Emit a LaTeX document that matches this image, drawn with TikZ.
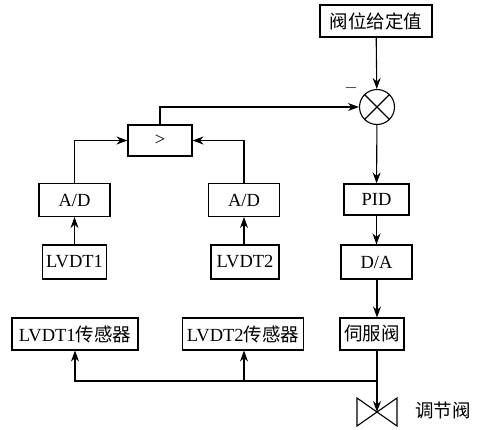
\documentclass[tikz,border=0pt]{standalone}
\usepackage{fontspec}
\setmainfont{Liberation Serif}
\newfontfamily\cjk{Noto Sans CJK SC}
\usetikzlibrary{arrows.meta}
\begin{document}
\begin{tikzpicture}[x=1pt,y=-1pt,
  every node/.style={font=\fontsize{18.5}{22}\selectfont},
  blk/.style={draw,line width=1.1pt,rectangle,inner sep=0pt},
  ln/.style={line width=1.1pt},
  arr/.style={ln,-{Stealth[length=11pt,width=8pt]}}]
\useasboundingbox (0,0) rectangle (482,429);
% nodes
\node[blk,minimum width=112,minimum height=32] (sp) at (376,21) {\cjk 阀位给定值};
\node[draw,circle,line width=1.1pt,minimum size=35,inner sep=0pt] (sum) at (377,107) {};
\draw[ln] (sum.45) -- (sum.225) (sum.135) -- (sum.315);
\node (minus) at (351,88) {$-$};
\node[blk,minimum width=64,minimum height=31] (cmp) at (160,140.5) {>};
\node[blk,minimum width=71,minimum height=33] (adL) at (74.5,200) {A/D};
\node[blk,minimum width=71,minimum height=33] (adR) at (244,200) {A/D};
\node[blk,minimum width=64,minimum height=34] (lv1) at (74.5,262) {LVDT1};
\node[blk,minimum width=68,minimum height=34] (lv2) at (245,262) {LVDT2};
\node[blk,minimum width=126,minimum height=32] (s1) at (75,334) {LVDT1{\cjk 传感器}};
\node[blk,minimum width=121,minimum height=32] (s2) at (243,334) {LVDT2{\cjk 传感器}};
\node[blk,minimum width=65,minimum height=31] (pid) at (376.5,199.5) {PID};
\node[blk,minimum width=71,minimum height=34] (da) at (376.5,262) {D/A};
\node[blk,minimum width=64,minimum height=32] (sv) at (372,334) {\cjk 伺服阀};
\coordinate (valve) at (377,412);
\coordinate (j) at (377,381);
\node (vl) at (443,410) {\cjk 调节阀};
% valve body
\draw[ln,line join=miter] (valve) -- (357,398) -- (357,426) -- cycle;
\draw[ln,line join=miter] (valve) -- (397,398) -- (397,426) -- cycle;
% connectors
\draw[arr] (sp) -- (sum);
\draw[arr] (cmp.north) |- (sum.west);
\draw[arr] (adL.north) |- (cmp.west);
\draw[arr] (adR.north) |- (cmp.east);
\draw[arr] (lv1) -- (adL);
\draw[arr] (lv2.north -| adR) -- (adR);
\draw[arr] (sum) -- (pid);
\draw[arr] (pid) -- (da);
\draw[arr] (da.south -| sum) -- (sum |- sv.north);
\draw[arr] (sum |- sv.south) -- (valve);
\draw[arr] (j) -| (s1.south);
\draw[arr] (j) -| (adR |- s2.south);
\end{tikzpicture}
\end{document}
